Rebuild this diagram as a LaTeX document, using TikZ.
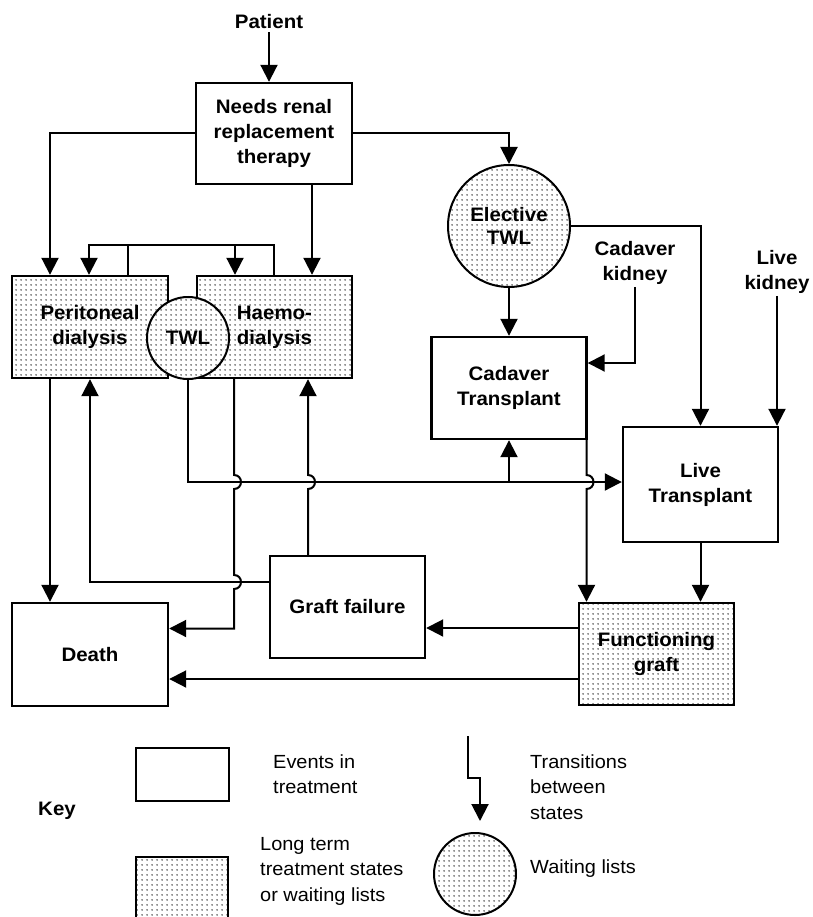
\documentclass[tikz,border=0pt]{standalone}
\usepackage{fontspec}
\setmainfont{Liberation Sans}[FakeStretch=1.05]
\usepackage{tikz}
\usetikzlibrary{arrows.meta, positioning, calc, patterns}
\pgfdeclarepatternformonly{stipple}{\pgfpointorigin}{\pgfpoint{4.5pt}{4.5pt}}{\pgfpoint{4.5pt}{4.5pt}}{%
  \pgfpathcircle{\pgfpoint{2.25pt}{2.25pt}}{0.85pt}\pgfusepath{fill}}
\newcommand\nodefont{\fontsize{19.5}{25}\selectfont\bfseries}
\newcommand\keyfont{\fontsize{19}{25.5}\selectfont}
\tikzset{
  event/.style={draw, line width=2.4pt, minimum width=155pt, minimum height=102pt, align=center, inner sep=0pt, font=\nodefont},
  ltstate/.style={event, pattern=stipple, pattern color=black!85},
  wlist/.style={circle, draw, line width=2pt, preaction={fill=white}, pattern=stipple, pattern color=black!85, align=center, inner sep=0pt, font=\nodefont},
  link/.style={line width=2pt},
  arr/.style={link, -{Triangle[length=17pt, width=17pt]}},
  keytext/.style={anchor=west, align=left, inner sep=0pt, font=\keyfont},
}
\begin{document}
\begin{tikzpicture}[x=1pt, y=-1pt]
  \useasboundingbox (0,0) rectangle (812,917);

  % Start
  \node[font=\nodefont, inner sep=3pt] (patient) at (269,22) {Patient};
  \node[event, minimum width=156pt, minimum height=101pt] (needs) at (274,133.5) {Needs renal\\replacement\\therapy};

  % Dialysis and TWL
  \node[ltstate, minimum width=156pt] (perit) at (90,327) {Peritoneal\\dialysis};
  \node[ltstate] (haemo) at (274.5,327) {Haemo-\\dialysis};
  \node[wlist, minimum size=82pt] (twl) at (188,338) {TWL};

  % Transplant side
  \node[wlist, minimum size=122pt] (etwl) at (509,226) {Elective\\[-2pt]TWL};
  \node[font=\nodefont, align=center, inner sep=2pt] (cadk) at (635,263) {Cadaver\\kidney};
  \node[font=\nodefont, align=center, inner sep=2pt] (livek) at (777,272) {Live\\kidney};
  \node[event] (cadtx) at (509,388) {Cadaver\\Transplant};
  \node[event, minimum height=115pt] (livetx) at (700.5,484.5) {Live\\Transplant};

  % Outcomes
  \node[event, minimum width=156pt, minimum height=103pt] (death) at (90,654.5) {Death};
  \node[event] (gfail) at (347.5,607) {Graft failure};
  \node[ltstate] (func) at (656.5,654) {Functioning\\graft};

  \coordinate (bus) at (509,482);
  \coordinate (cjump) at (586.5,475);

  % Transitions
  \draw[arr] (patient.south) -- (patient.south |- needs.north);
  \draw[arr] (needs.west) -| ([xshift=-40pt]perit.north);
  \draw[arr] ([xshift=38pt]needs.south) -- ([xshift=38pt]needs.south |- haemo.north);
  \draw[arr] (needs.east) -| (etwl.north);
  \draw[arr] ([xshift=38pt]perit.north) -- ++(0,-30) -| ([xshift=-39.5pt]haemo.north);
  \draw[arr] ([xshift=-0.5pt]haemo.north) -- ++(0,-30) -| ([xshift=-1pt]perit.north);
  \draw[arr] (etwl.south) -- (cadtx.north);
  \draw[arr] (etwl.east) -| (livetx.north);
  \draw[arr] (cadk.south) |- ([yshift=25pt]cadtx.east);
  \draw[arr] (livek.south) -- (livek.south |- livetx.north);
  \draw[arr] (twl.south) |- ([yshift=2.5pt]livetx.west);
  \draw[arr] (bus) -- (cadtx.south);
  \draw[arr] (cadtx.south -| cjump) -- (cjump) .. controls (595.8,475) and (595.8,489) .. (586.5,489) -- (func.north -| cjump);
  \draw[arr] (livetx.south) -- (livetx.south |- func.north);
  \draw[arr] ([yshift=26pt]func.west) -- ([yshift=26pt]func.west -| gfail.east);
  \draw[arr] ([yshift=-25pt]func.west) -- ([yshift=-25pt]func.west -| death.east);
  \draw[arr] ([yshift=25pt]gfail.west) -| (perit.south);
  \draw[arr] ([xshift=-39.5pt]gfail.north) -- (308,489) .. controls (317.3,489) and (317.3,475) .. (308,475) -- ([xshift=33.5pt]haemo.south);
  \draw[arr] ([xshift=-40.5pt]haemo.south) -- (234,475) .. controls (243.3,475) and (243.3,489) .. (234,489)
    -- (234,575) .. controls (243.3,575) and (243.3,589) .. (234,589) |- ([yshift=26pt]death.east);
  \draw[arr] ([xshift=-40pt]perit.south) -- ([xshift=-40pt]death.north);

  % Key
  \node[font=\nodefont, inner sep=0pt] (key) at (57,811) {Key};
  \node[event, minimum width=93pt, minimum height=53pt] (keyev) at (182.5,774.5) {};
  \node[keytext] (keyevtxt) at (273,774) {Events in\\treatment};
  \node[ltstate, minimum width=92pt, minimum height=78pt] (keylt) at (182,896) {};
  \node[keytext] (keylttxt) at (260,871) {Long term\\treatment states\\or waiting lists};
  \draw[arr] (468,736) -- (468,778) -- (480,778) -- (480,821);
  \node[keytext] (keytrtxt) at (530,787) {Transitions\\between\\states};
  \node[wlist, minimum size=82pt] (keywl) at (475,874) {};
  \node[keytext] (keywltxt) at (530,869) {Waiting lists};
\end{tikzpicture}
\end{document}
